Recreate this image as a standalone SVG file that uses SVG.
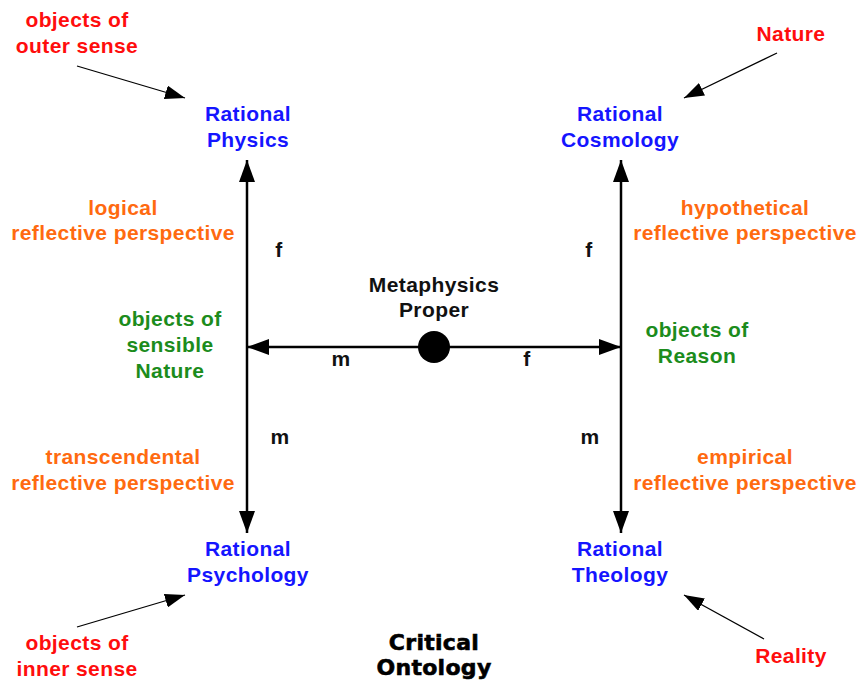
<svg xmlns="http://www.w3.org/2000/svg" width="859" height="681" viewBox="0 0 859 681">
<defs>
<style>
text{font-family:"Liberation Sans",Arial,sans-serif;font-weight:bold;font-size:21px;letter-spacing:0.4px;text-anchor:middle}
.red{fill:#ff0d0d}.blue{fill:#1515ff}.orange{fill:#ff6a10}.green{fill:#1c8c1c}.blk{fill:#111}
.crit{font-family:"DejaVu Sans","Liberation Sans",sans-serif;font-weight:900;font-size:22px;letter-spacing:0.3px;fill:#000;stroke:#000;stroke-width:0.6}
.thick{stroke:#000;stroke-width:2.5;fill:none}
.thin{stroke:#000;stroke-width:1.3;fill:none}
</style>
<marker id="bigArrow" markerUnits="userSpaceOnUse" viewBox="0 0 22 16" refX="22" refY="8" markerWidth="22" markerHeight="16" orient="auto">
<polygon points="0,0 22,8 0,16" fill="#000"/>
</marker>
<marker id="smallArrow" markerUnits="userSpaceOnUse" viewBox="0 0 20 14" refX="20" refY="7" markerWidth="20" markerHeight="14" orient="auto">
<polygon points="0,0 20,7 0,14" fill="#000"/>
</marker>
</defs>
<rect width="859" height="681" fill="#fff"/>
<g id="connectors">
<line class="thick" x1="247" y1="347" x2="247" y2="160" marker-end="url(#bigArrow)"/>
<line class="thick" x1="247" y1="347" x2="247" y2="533" marker-end="url(#bigArrow)"/>
<line class="thick" x1="621" y1="347" x2="621" y2="160" marker-end="url(#bigArrow)"/>
<line class="thick" x1="621" y1="347" x2="621" y2="533" marker-end="url(#bigArrow)"/>
<line class="thick" x1="434" y1="347" x2="247" y2="347" marker-end="url(#bigArrow)"/>
<line class="thick" x1="434" y1="347" x2="621" y2="347" marker-end="url(#bigArrow)"/>
<line class="thin" x1="77" y1="66" x2="185" y2="98" marker-end="url(#smallArrow)"/>
<line class="thin" x1="777" y1="53" x2="684" y2="98" marker-end="url(#smallArrow)"/>
<line class="thin" x1="77" y1="627" x2="185" y2="595" marker-end="url(#smallArrow)"/>
<line class="thin" x1="764" y1="639" x2="684" y2="595" marker-end="url(#smallArrow)"/>
<text class="blk" x="279" y="257">f</text>
<text class="blk" x="589" y="257">f</text>
<text class="blk" x="341" y="366">m</text>
<text class="blk" x="527" y="366">f</text>
<text class="blk" x="280" y="444">m</text>
<text class="blk" x="590" y="444">m</text>
</g>
<g id="metaphysics-proper">
<circle cx="434" cy="347" r="16" fill="#000"/>
<text class="blk" x="434" y="292">Metaphysics</text>
<text class="blk" x="434" y="317">Proper</text>
</g>
<g id="rational-physics">
<text class="blue" x="248" y="121">Rational</text>
<text class="blue" x="248" y="147">Physics</text>
</g>
<g id="rational-cosmology">
<text class="blue" x="620" y="121">Rational</text>
<text class="blue" x="620" y="147">Cosmology</text>
</g>
<g id="rational-psychology">
<text class="blue" x="248" y="556">Rational</text>
<text class="blue" x="248" y="582">Psychology</text>
</g>
<g id="rational-theology">
<text class="blue" x="620" y="556">Rational</text>
<text class="blue" x="620" y="582">Theology</text>
</g>
<g id="outer-sense">
<text class="red" x="77" y="27">objects of</text>
<text class="red" x="77" y="53">outer sense</text>
</g>
<g id="nature">
<text class="red" x="791" y="41">Nature</text>
</g>
<g id="inner-sense">
<text class="red" x="77" y="650">objects of</text>
<text class="red" x="77" y="676">inner sense</text>
</g>
<g id="reality">
<text class="red" x="791" y="663">Reality</text>
</g>
<g id="logical">
<text class="orange" x="123" y="215">logical</text>
<text class="orange" x="123" y="240">reflective perspective</text>
</g>
<g id="hypothetical">
<text class="orange" x="745" y="215">hypothetical</text>
<text class="orange" x="745" y="240">reflective perspective</text>
</g>
<g id="transcendental">
<text class="orange" x="123" y="464">transcendental</text>
<text class="orange" x="123" y="490">reflective perspective</text>
</g>
<g id="empirical">
<text class="orange" x="745" y="464">empirical</text>
<text class="orange" x="745" y="490">reflective perspective</text>
</g>
<g id="sensible-nature">
<text class="green" x="170" y="326">objects of</text>
<text class="green" x="170" y="352">sensible</text>
<text class="green" x="170" y="378">Nature</text>
</g>
<g id="reason">
<text class="green" x="697" y="337">objects of</text>
<text class="green" x="697" y="363">Reason</text>
</g>
<g id="critical-ontology">
<text class="crit" x="434" y="650">Critical</text>
<text class="crit" x="434" y="675">Ontology</text>
</g>
</svg>
